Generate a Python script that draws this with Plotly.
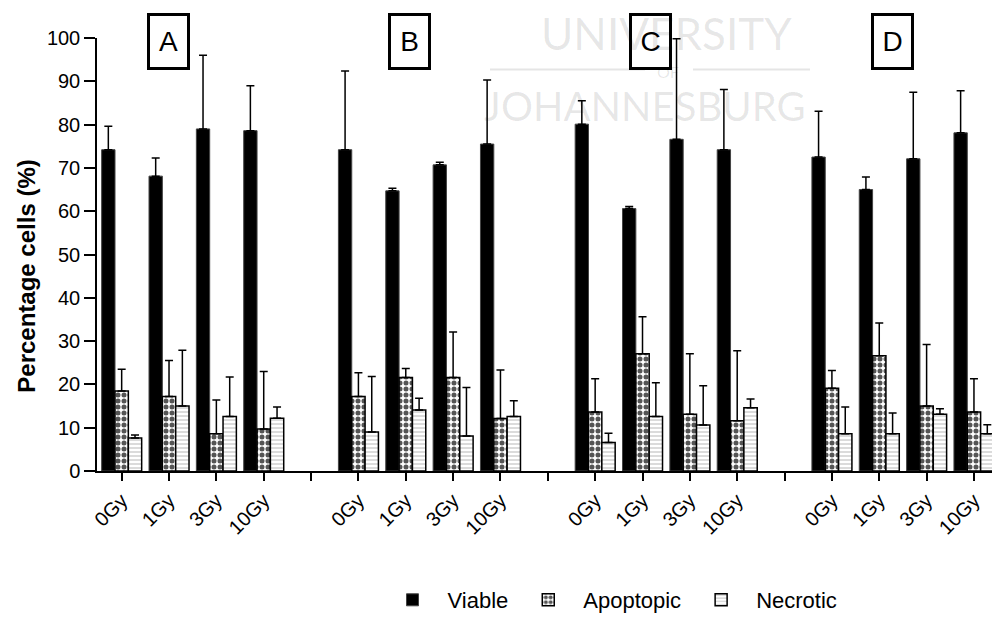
import plotly.graph_objects as go

# ---------------- data ----------------
panels = ["A", "B", "C", "D"]
doses = ["0Gy", "1Gy", "3Gy", "10Gy"]

# values listed panel by panel (A, B, C, D), each in dose order 0,1,3,10 Gy
viable = [74.2, 68.1, 79.0, 78.6,
          74.2, 64.7, 70.7, 75.5,
          80.1, 60.6, 76.6, 74.2,
          72.5, 65.0, 72.1, 78.1]
viable_err = [5.4, 4.2, 17.0, 10.4,
              18.2, 0.6, 0.6, 14.8,
              5.4, 0.5, 23.2, 13.9,
              10.6, 2.9, 15.4, 9.7]
apoptotic = [18.5, 17.2, 8.6, 9.7,
             17.2, 21.6, 21.6, 12.1,
             13.6, 27.1, 13.1, 11.6,
             19.1, 26.6, 15.0, 13.6]
apoptotic_err = [5.0, 8.3, 7.8, 13.3,
                 5.5, 2.1, 10.5, 11.2,
                 7.7, 8.5, 14.0, 16.2,
                 4.1, 7.6, 14.2, 7.7]
necrotic = [7.6, 15.0, 12.6, 12.2,
            9.0, 14.1, 8.1, 12.6,
            6.6, 12.6, 10.6, 14.6,
            8.6, 8.6, 13.1, 8.6]
necrotic_err = [0.7, 12.9, 9.1, 2.6,
                12.8, 2.7, 11.2, 3.6,
                2.1, 7.8, 9.1, 2.0,
                6.2, 4.8, 1.3, 2.1]

# ------------- build slots (4 doses + 1 empty gap per panel) -------------
def with_gaps(vals):
    out = []
    for p in range(len(panels)):
        out += vals[p * 4:(p + 1) * 4]
        if p < len(panels) - 1:
            out.append(None)
    return out

tick_text = []
for p in range(len(panels)):
    tick_text += doses
    if p < len(panels) - 1:
        tick_text.append("")
xpos = list(range(len(tick_text)))

FONT = "Liberation Sans, Arial, Helvetica, sans-serif"

def err(arr):
    return dict(type="data", array=with_gaps(arr), symmetric=False,
                arrayminus=[0] * len(xpos), color="black",
                thickness=1.5, width=4)

fig = go.Figure()
fig.add_trace(go.Bar(
    name="Viable", x=xpos, y=with_gaps(viable), error_y=err(viable_err),
    marker=dict(color="black", line=dict(color="#444", width=1)),
))
fig.add_trace(go.Bar(
    name="Apoptopic", x=xpos, y=with_gaps(apoptotic), error_y=err(apoptotic_err),
    marker=dict(color="white", line=dict(color="black", width=1.5),
                pattern=dict(shape=".", fgcolor="#555555", bgcolor="white",
                             size=6, solidity=0.55, fillmode="replace")),
))
fig.add_trace(go.Bar(
    name="Necrotic", x=xpos, y=with_gaps(necrotic), error_y=err(necrotic_err),
    marker=dict(color="white", line=dict(color="black", width=1.5),
                pattern=dict(shape="-", fgcolor="#c4c4c4", bgcolor="white",
                             size=4, solidity=0.3, fillmode="replace")),
))

L, T, B = 97, 38, 144
W, H = 992, 621
pw, ph = W - L, H - T - B

def px_x(px):
    return (px - L) / pw

def px_y(py):
    return (H - B - py) / ph

annotations = []
# watermark (background logo text)
wm = "rgba(0,0,0,0.10)"
annotations += [
    dict(text="UNIVERSITY", x=px_x(666), y=px_y(33), xref="paper", yref="paper",
         xanchor="center", yanchor="middle",
         showarrow=False, font=dict(family="Lato, " + FONT, size=44, color=wm)),
    dict(text="OF", x=px_x(668), y=px_y(72), xref="paper", yref="paper",
         xanchor="center", yanchor="middle",
         showarrow=False, font=dict(family="Lato, " + FONT, size=16, color=wm)),
    dict(text="JOHANNESBURG", x=px_x(645), y=px_y(107), xref="paper", yref="paper",
         xanchor="center", yanchor="middle",
         showarrow=False, font=dict(family="Lato, " + FONT, size=40, color=wm)),
]
# panel labels
for lab, cx in zip(panels, [168, 409, 650, 892]):
    annotations.append(dict(
        text=lab, x=px_x(cx), y=px_y(42), xref="paper", yref="paper",
        showarrow=False, font=dict(family=FONT, size=28, color="black"),
        bordercolor="black", borderwidth=3, borderpad=0, width=37, height=51,
        bgcolor="rgba(255,255,255,0)", xanchor="center", yanchor="middle"))
# y title
annotations.append(dict(
    text="<b>Percentage cells (%)</b>", x=px_x(27), y=px_y(280),
    xref="paper", yref="paper", showarrow=False, textangle=-90,
    font=dict(family=FONT, size=24, color="black"),
    xanchor="center", yanchor="middle"))

shapes = [
    dict(type="line", xref="paper", yref="paper", x0=px_x(490), x1=px_x(645),
         y0=px_y(70), y1=px_y(70), line=dict(color=wm, width=2)),
    dict(type="line", xref="paper", yref="paper", x0=px_x(693), x1=px_x(810),
         y0=px_y(70), y1=px_y(70), line=dict(color=wm, width=2)),
]

fig.update_layout(
    width=W, height=H,
    margin=dict(l=L, r=0, t=T, b=B, pad=0),
    paper_bgcolor="white", plot_bgcolor="white",
    barmode="group", bargap=0.155, bargroupgap=0,
    font=dict(family=FONT, size=20, color="black"),
    annotations=annotations, shapes=shapes,
    legend=dict(orientation="h", x=px_x(610), xanchor="center",
                y=px_y(608), yanchor="middle",
                font=dict(family=FONT, size=22, color="black"),
                itemwidth=60, traceorder="normal"),
    xaxis=dict(range=[-0.521, 18.381], tickmode="array", tickvals=xpos,
               ticktext=tick_text, tickangle=-45, ticks="outside",
               ticklen=8, tickwidth=1.5, tickcolor="black",
               showline=True, linecolor="black", linewidth=1.5,
               showgrid=False, zeroline=False,
               tickfont=dict(family=FONT, size=20, color="black")),
    yaxis=dict(range=[0, 100], dtick=10, ticks="outside", ticklen=11,
               tickwidth=1.5, tickcolor="black", showline=True,
               linecolor="black", linewidth=1.5, showgrid=False,
               zeroline=False,
               tickfont=dict(family=FONT, size=20, color="black")),
)

fig.write_html("out.html")
